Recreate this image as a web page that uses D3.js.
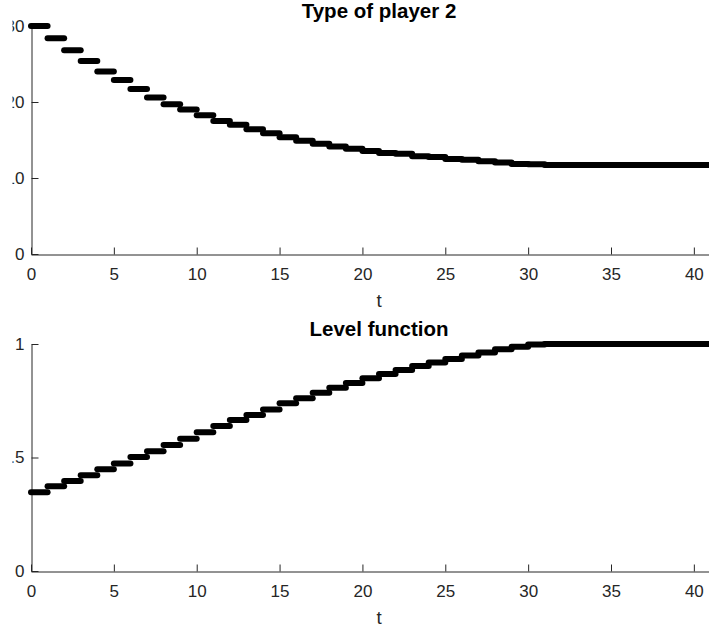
<!DOCTYPE html>
<meta charset="utf-8">
<style>
body { margin: 0; background: #fff; }
svg { display: block; font-family: "Liberation Sans", Arial, sans-serif; }
.axis .domain { stroke: #262626; }
.axis line { stroke: #262626; }
.axis text { fill: #262626; font-size: 17px; }
.title { font-size: 20.5px; font-weight: bold; fill: #000; }
.xlabel { font-size: 18.7px; fill: #262626; }
.step { stroke: #000; stroke-width: 6; stroke-linecap: round; }
</style>
<svg width="709" height="633"></svg>
<script src="https://cdnjs.cloudflare.com/ajax/libs/d3/7.8.5/d3.min.js"></script>
<script>

// step values, one per unit of t (value held on [t, t+1])
var typePlayer2 = [30, 28.4, 26.8, 25.4, 24.0, 22.9, 21.7, 20.6, 19.7, 19.0,
                   18.25, 17.5, 17.0, 16.4, 15.9, 15.35, 14.9, 14.5, 14.15, 13.85,
                   13.55, 13.3, 13.2, 12.85, 12.75, 12.5, 12.4, 12.2, 12.05, 11.85,
                   11.8, 11.7, 11.7, 11.7, 11.7, 11.7, 11.7, 11.7, 11.7, 11.7, 11.7, 11.7];

var levelFunction = [0.347, 0.373, 0.397, 0.422, 0.448, 0.474, 0.502, 0.527, 0.555, 0.583,
                     0.611, 0.639, 0.665, 0.687, 0.712, 0.739, 0.761, 0.785, 0.807, 0.828,
                     0.849, 0.868, 0.886, 0.903, 0.919, 0.934, 0.949, 0.963, 0.977, 0.988,
                     0.998, 1, 1, 1, 1, 1, 1, 1, 1, 1, 1, 1];

var xTicks = [0, 5, 10, 15, 20, 25, 30, 35, 40];
var topYTicks = [0, 10, 20, 30];
var botYTicks = [0, 0.5, 1];

var svg = d3.select("svg");

// left edge of the figure is trimmed: tick labels get cut off
svg.append("defs").append("clipPath")
    .attr("id", "trim")
  .append("rect")
    .attr("x", 12.5)
    .attr("y", 0)
    .attr("width", 709)
    .attr("height", 633);

var x = d3.scaleLinear().domain([0, 42]).range([31, 727]);

var panels = [
  {title: "Type of player 2", values: typePlayer2, ticks: topYTicks,
   y: d3.scaleLinear().domain([0, 30]).range([254, 26]), fmt: d3.format("d")},
  {title: "Level function", values: levelFunction, ticks: botYTicks,
   y: d3.scaleLinear().domain([0, 1]).range([571, 344]), fmt: function(d) { return d === 0 || d === 1 ? String(d) : d3.format(".1f")(d); }}
];

panels.forEach(function(p) {
  var y = p.y,
      y0 = y.range()[0],
      y1 = y.range()[1];

  var g = svg.append("g").attr("clip-path", "url(#trim)");

  g.append("g")
      .attr("class", "axis")
      .attr("transform", "translate(0," + (y0 + 0.5) + ")")
      .call(d3.axisBottom(x).tickValues(xTicks).tickSizeInner(-7).tickSizeOuter(0).tickPadding(13))
      .attr("font-family", null).attr("font-size", null);

  g.append("g")
      .attr("class", "axis")
      .attr("transform", "translate(" + (x(0) + 0.5) + ",0)")
      .call(d3.axisLeft(y).tickValues(p.ticks).tickFormat(p.fmt).tickSizeInner(-7).tickSizeOuter(0).tickPadding(7))
      .attr("font-family", null).attr("font-size", null);

  svg.append("text")
      .attr("class", "title")
      .attr("x", (x.range()[0] + x.range()[1]) / 2)
      .attr("y", y1 - 8)
      .attr("text-anchor", "middle")
      .text(p.title);

  svg.append("text")
      .attr("class", "xlabel")
      .attr("x", (x.range()[0] + x.range()[1]) / 2)
      .attr("y", y0 + 53)
      .attr("text-anchor", "middle")
      .text("t");

  svg.append("g")
    .selectAll("line")
    .data(p.values)
    .enter().append("line")
      .attr("class", "step")
      .attr("x1", function(d, i) { return x(i); })
      .attr("x2", function(d, i) { return x(i + 1); })
      .attr("y1", function(d) { return y(d); })
      .attr("y2", function(d) { return y(d); });
});

</script>
